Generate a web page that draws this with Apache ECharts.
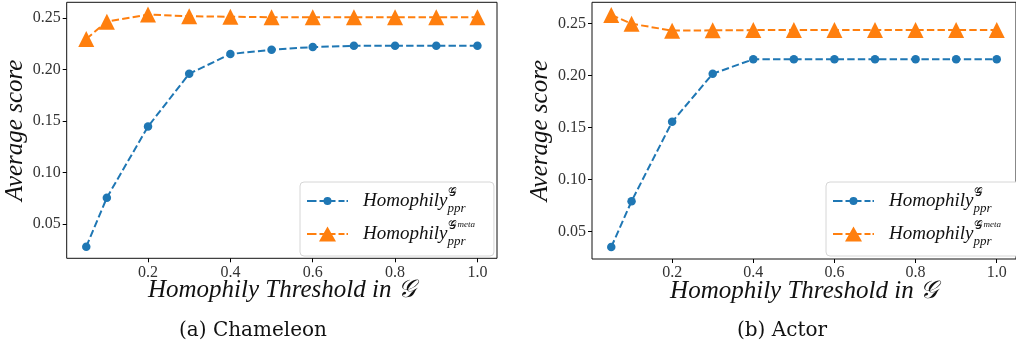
<!DOCTYPE html>
<html>
<head>
<meta charset="utf-8">
<script src="https://cdn.jsdelivr.net/npm/echarts@6/dist/echarts.min.js"></script>
<style>
html, body { margin: 0; padding: 0; background: #fff; }
#main { width: 1016px; height: 348px; }
</style>
</head>
<body>
<div id="main"></div>
<script>
// 阈值 (x)
var thresholds = [0.05, 0.1, 0.2, 0.3, 0.4, 0.5, 0.6, 0.7, 0.8, 0.9, 1.0];
// Chameleon
var chamG = [0.028, 0.0755, 0.1445, 0.1957, 0.2148, 0.219, 0.2216, 0.2228, 0.2228, 0.2228, 0.2228];
var chamMeta = [0.2295, 0.2462, 0.2531, 0.2515, 0.251, 0.2505, 0.2505, 0.2505, 0.2505, 0.2505, 0.2505];
// Actor
var actorG = [0.0352, 0.0792, 0.1554, 0.2016, 0.2155, 0.2155, 0.2155, 0.2155, 0.2155, 0.2155, 0.2155];
var actorMeta = [0.258, 0.2496, 0.243, 0.2433, 0.2435, 0.2435, 0.2435, 0.2435, 0.2435, 0.2435, 0.2435];
// tick labels
var xTicks = [0.2, 0.4, 0.6, 0.8, 1.0];
var yTicks = [0.05, 0.10, 0.15, 0.20, 0.25];

var BLUE = '#1f77b4', ORANGE = '#ff7f0e';
var SERIF = "'Liberation Serif', 'DejaVu Serif', serif";
var NAME_G = 'HomophilyG', NAME_META = 'HomophilyMeta';

function pairs(ys) {
	return thresholds.map(function(x, i) { return [x, ys[i]]; });
}

// legend icons: dashed line + marker in one path (41 x 17 box)
var dashes = 'M0 7.5H9.5V9.5H0Z M12.5 7.5H28.5V9.5H12.5Z M31.5 7.5H37.5V9.5H31.5Z M39.5 7.5H41V9.5H39.5Z';
var bbox = ' M0 0L0 0Z M41 17L41 17Z';
var iconCircle = 'path://' + dashes + ' M16.5 8.5A4 4 0 1 1 24.5 8.5A4 4 0 1 1 16.5 8.5Z' + bbox;
var iconTri = 'path://' + dashes + ' M20.5 1L29 16L12 16Z' + bbox;

function xAxis(idx) {
	return {
		type: 'value', gridIndex: idx, min: 0.0025, max: 1.0475,
		name: 'Homophily Threshold in \u{1D4A2}', nameLocation: 'middle', nameGap: 20,
		nameMoveOverlap: false,
		nameTextStyle: { fontFamily: SERIF, fontStyle: 'italic', fontSize: 25, color: '#111' },
		axisLine: { show: false },
		splitLine: { show: false },
		axisTick: { show: true, length: 4, lineStyle: { color: '#000' }, customValues: xTicks },
		axisLabel: {
			customValues: xTicks, fontFamily: SERIF, fontSize: 16, color: '#333', margin: 6,
			formatter: function(v) { return v.toFixed(1); }
		}
	};
}

function yAxis(idx, min, max) {
	return {
		type: 'value', gridIndex: idx, min: min, max: max,
		name: 'Average score', nameLocation: 'middle', nameGap: 39,
		nameMoveOverlap: false,
		nameTextStyle: { fontFamily: SERIF, fontStyle: 'italic', fontSize: 25, color: '#111' },
		axisLine: { show: false },
		splitLine: { show: false },
		axisTick: { show: true, length: 4, lineStyle: { color: '#000' }, customValues: yTicks },
		axisLabel: {
			customValues: yTicks, fontFamily: SERIF, fontSize: 16, color: '#333', margin: 6,
			formatter: function(v) { return v.toFixed(2); }
		}
	};
}

function lineSeries(name, idx, ys, color, symbol, size) {
	return {
		name: name, type: 'line', xAxisIndex: idx, yAxisIndex: idx,
		data: pairs(ys), symbol: symbol, symbolSize: size,
		itemStyle: { color: color, borderWidth: 0 },
		lineStyle: { color: color, width: 2, type: [7.4, 3.2] },
		z: symbol === 'triangle' ? 3 : 2
	};
}

function legend(left) {
	return {
		orient: 'vertical', left: left, top: 182,
		itemWidth: 41, itemHeight: 17, itemGap: 5,
		padding: [5, 19, 8, 7],
		backgroundColor: '#fff', borderColor: '#d6d6d6', borderWidth: 1, borderRadius: 4,
		itemStyle: { borderWidth: 0 },
		data: [
			{ name: NAME_G, icon: iconCircle, itemStyle: { color: BLUE } },
			{ name: NAME_META, icon: iconTri, itemStyle: { color: ORANGE } }
		],
		formatter: function(name) {
			return name === NAME_G ?
				'{h|Homophily}{sb|ppr}{sp|\u{1D4A2}}' :
				'{h|Homophily}{sb|ppr}{sp|\u{1D4A2}}{m|meta}';
		},
		textStyle: {
			color: '#111',
			rich: {
				h: { fontFamily: SERIF, fontStyle: 'italic', fontSize: 19, lineHeight: 28, padding: [0, 0, 0, 10] },
				sb: { fontFamily: SERIF, fontStyle: 'italic', fontSize: 13, lineHeight: 14, width: 1, verticalAlign: 'bottom' },
				sp: { fontFamily: SERIF, fontSize: 12, lineHeight: 14, verticalAlign: 'top' },
				m: { fontFamily: SERIF, fontStyle: 'italic', fontSize: 9, lineHeight: 12, verticalAlign: 'top' }
			}
		}
	};
}

var myChart = echarts.init(document.getElementById('main'), null, { renderer: 'canvas' });
var option = {
	animation: false,
	backgroundColor: '#fff',
	grid: [
		{ left: 66.7, top: 2.3, width: 430.3, height: 256, show: true, borderColor: '#111', borderWidth: 1, containLabel: false },
		{ left: 592, top: 2.3, width: 431, height: 256.7, show: true, borderColor: '#111', borderWidth: 1, containLabel: false }
	],
	xAxis: [xAxis(0), xAxis(1)],
	yAxis: [yAxis(0, 0.0167, 0.265), yAxis(1, 0.0237, 0.2702)],
	legend: [legend(300), legend(826)],
	series: [
		lineSeries(NAME_G, 0, chamG, BLUE, 'circle', 8.5),
		lineSeries(NAME_META, 0, chamMeta, ORANGE, 'triangle', 16),
		lineSeries(NAME_G, 1, actorG, BLUE, 'circle', 8.5),
		lineSeries(NAME_META, 1, actorMeta, ORANGE, 'triangle', 16)
	],
	graphic: [
		{ type: 'text', x: 253, y: 331, style: { text: '(a) Chameleon', font: "20px 'DejaVu Serif'", fill: '#111', textAlign: 'center', textVerticalAlign: 'middle' } },
		{ type: 'text', x: 782, y: 331, style: { text: '(b) Actor', font: "20px 'DejaVu Serif'", fill: '#111', textAlign: 'center', textVerticalAlign: 'middle' } }
	]
};
myChart.setOption(option);
</script>
</body>
</html>
